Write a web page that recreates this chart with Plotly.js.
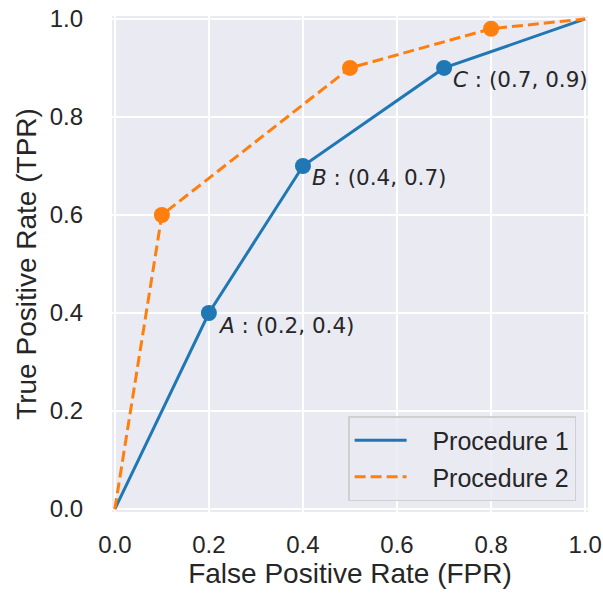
<!DOCTYPE html>
<html>
<head>
<meta charset="utf-8">
<script src="https://cdn.plot.ly/plotly-3.0.1.min.js"></script>
<style>html,body{margin:0;padding:0;background:#fff;}#chart{width:603px;height:595px;}</style>
</head>
<body>
<div id="chart"></div>
<script>
const fpr1 = [0, 0.2, 0.4, 0.7, 1];
const tpr1 = [0, 0.4, 0.7, 0.9, 1];
const fpr2 = [0, 0.1, 0.5, 0.8, 1];
const tpr2 = [0, 0.6, 0.9, 0.98, 1];
const pointLabels = ['A', 'B', 'C'];
const seriesNames = ['Procedure 1', 'Procedure 2'];
const tickVals = [0, 0.2, 0.4, 0.6, 0.8, 1.0];
const tickText = ['0.0', '0.2', '0.4', '0.6', '0.8', '1.0'];

const blue = '#1f77b4', orange = '#ff7f0e', txt = '#262626';
const inner = a => a.slice(1, a.length - 1);
const sans = 'Liberation Sans, Arial';
const pad = '&nbsp;&nbsp;&nbsp;';

const traces = [
  {x: fpr1, y: tpr1, mode: 'lines', name: pad + seriesNames[0], legendgroup: 'p1', line: {color: blue, width: 3}},
  {x: fpr2, y: tpr2, mode: 'lines', name: pad + seriesNames[1], legendgroup: 'p2', line: {color: orange, width: 3, dash: '11px,5px'}},
  {x: inner(fpr1), y: inner(tpr1), mode: 'markers', showlegend: false, marker: {color: blue, size: 16}, hoverinfo: 'skip'},
  {x: inner(fpr2), y: inner(tpr2), mode: 'markers', showlegend: false, marker: {color: orange, size: 16}, hoverinfo: 'skip'}
];

const px = inner(fpr1), py = inner(tpr1);
const annotations = pointLabels.map((l, i) => ({
  x: px[i], y: py[i], xref: 'x', yref: 'y',
  text: '<i>' + l + '</i> : (' + px[i].toFixed(1) + ', ' + py[i].toFixed(1) + ')',
  showarrow: false, xanchor: 'left', yanchor: 'middle', xshift: 7, yshift: -12,
  font: {family: 'DejaVu Sans', size: 21.5, color: txt}
}));

const axisCommon = {
  range: [-0.006, 1.006], tickvals: tickVals, ticktext: tickText,
  showgrid: true, gridcolor: '#ffffff', gridwidth: 2, zeroline: false, showline: false,
  ticks: '', tickfont: {family: sans, size: 24, color: txt},
  automargin: false, fixedrange: true
};

const layout = {
  width: 603, height: 595,
  margin: {l: 112, r: 15, t: 16, b: 83},
  paper_bgcolor: '#ffffff', plot_bgcolor: '#EAEAF2',
  showlegend: true,
  xaxis: Object.assign({}, axisCommon, {
    ticklabelstandoff: 16,
    title: {text: 'False Positive Rate (FPR)', font: {family: sans, size: 28, color: txt}, standoff: 1}
  }),
  yaxis: Object.assign({}, axisCommon, {
    ticklabelstandoff: 28,
    title: {text: 'True Positive Rate (TPR)', font: {family: sans, size: 28, color: txt}, standoff: 4}
  }),
  legend: {
    x: 0.975, y: 0.022, xanchor: 'right', yanchor: 'bottom',
    bgcolor: 'rgba(234,234,242,0.8)', bordercolor: '#d0d0d0', borderwidth: 1.5,
    font: {family: sans, size: 25, color: txt},
    traceorder: 'grouped', tracegroupgap: 1,
    itemwidth: 52
  },
  annotations: annotations
};

Plotly.newPlot('chart', traces, layout, {displayModeBar: false, staticPlot: true});
</script>
</body>
</html>
